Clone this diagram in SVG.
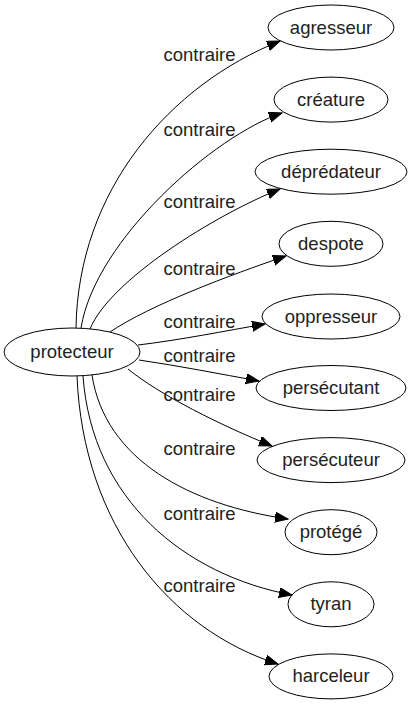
<svg xmlns="http://www.w3.org/2000/svg" width="413" height="707" viewBox="0 0 413 707">
<style>
text{font-family:"Liberation Sans",Arial,sans-serif;font-size:18.5px;fill:#222}
.n{text-anchor:middle}
.l{text-anchor:middle}
ellipse{fill:none;stroke:#000;stroke-width:1}
.e path{fill:none;stroke:#000;stroke-width:1;marker-end:url(#ah)}
</style>
<defs>
<marker id="ah" markerUnits="userSpaceOnUse" markerWidth="14" markerHeight="12" refX="13" refY="5" orient="auto">
<path d="M0,0 L13,5 L0,10 Z" fill="#000" stroke="#000" stroke-width="1"/>
</marker>
</defs>
<rect width="413" height="707" fill="#fff"/>
<g id="edges" class="e">
<path d="M76,328 C78,190 170,85 280,41"/>
<path d="M81,328 C95,240 215,135 282,113"/>
<path d="M90,329 C110,280 215,215 280,189"/>
<path d="M110,332 C150,305 230,275 286,256"/>
<path d="M138,345 C180,340 225,331 265,324"/>
<path d="M139,360 C180,366 220,374 259,381"/>
<path d="M128,369 C160,395 220,425 272,446"/>
<path d="M92,375 C105,460 190,505 288,519"/>
<path d="M83,376 C92,500 185,575 292,595"/>
<path d="M77,376 C83,525 170,630 278,664"/>
</g>
<g id="labels">
<text class="l" x="199.5" y="61">contraire</text>
<text class="l" x="199.5" y="136">contraire</text>
<text class="l" x="199.5" y="208">contraire</text>
<text class="l" x="199.5" y="275">contraire</text>
<text class="l" x="199.5" y="328">contraire</text>
<text class="l" x="199.5" y="362">contraire</text>
<text class="l" x="199.5" y="401">contraire</text>
<text class="l" x="199.5" y="455">contraire</text>
<text class="l" x="199.5" y="520">contraire</text>
<text class="l" x="199.5" y="592">contraire</text>
</g>
<g id="protecteur"><ellipse cx="72" cy="352" rx="68" ry="24"/><text class="n" x="72" y="358">protecteur</text></g>
<g id="agresseur"><ellipse cx="331" cy="27.5" rx="63" ry="22.5"/><text class="n" x="331" y="34">agresseur</text></g>
<g id="creature"><ellipse cx="331" cy="99.6" rx="57" ry="22.5"/><text class="n" x="331" y="106">créature</text></g>
<g id="depredateur"><ellipse cx="331" cy="171.7" rx="76" ry="22.5"/><text class="n" x="331" y="178">déprédateur</text></g>
<g id="despote"><ellipse cx="331" cy="243.8" rx="52" ry="22.5"/><text class="n" x="331" y="250">despote</text></g>
<g id="oppresseur"><ellipse cx="331" cy="316.5" rx="69" ry="22.5"/><text class="n" x="331" y="323">oppresseur</text></g>
<g id="persecutant"><ellipse cx="331" cy="388" rx="75" ry="22.5"/><text class="n" x="331" y="394">persécutant</text></g>
<g id="persecuteur"><ellipse cx="331" cy="460.1" rx="74" ry="22.5"/><text class="n" x="331" y="466">persécuteur</text></g>
<g id="protege"><ellipse cx="331" cy="532.2" rx="46" ry="22.5"/><text class="n" x="331" y="538">protégé</text></g>
<g id="tyran"><ellipse cx="331" cy="604.3" rx="43" ry="22.5"/><text class="n" x="331" y="610">tyran</text></g>
<g id="harceleur"><ellipse cx="331" cy="676.4" rx="62" ry="22.5"/><text class="n" x="331" y="682">harceleur</text></g>
</svg>
